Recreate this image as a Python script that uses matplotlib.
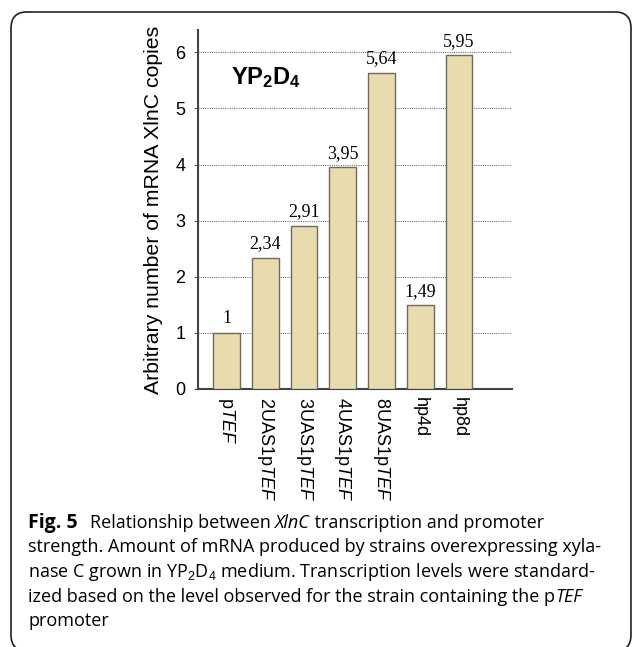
import matplotlib
matplotlib.use("Agg")
import matplotlib.pyplot as plt
from matplotlib.patches import FancyBboxPatch

plt.rcParams['font.family'] = ['Liberation Sans', 'DejaVu Sans']
plt.rcParams['mathtext.fontset'] = 'custom'
plt.rcParams['mathtext.rm'] = 'Liberation Sans'
plt.rcParams['mathtext.it'] = 'Liberation Sans:italic'
plt.rcParams['mathtext.bf'] = 'Liberation Sans:bold'

categories = [r'p$\it{TEF}$', r'2UAS1p$\it{TEF}$', r'3UAS1p$\it{TEF}$',
              r'4UAS1p$\it{TEF}$', r'8UAS1p$\it{TEF}$', 'hp4d', 'hp8d']
values = [1, 2.34, 2.91, 3.95, 5.64, 1.49, 5.95]
value_labels = ['1', '2,34', '2,91', '3,95', '5,64', '1,49', '5,95']
yticks = [0, 1, 2, 3, 4, 5, 6]

fig = plt.figure(figsize=(6.33, 6.47), dpi=100)
ax = fig.add_axes([0.3128, 0.3988, 0.496, 0.5549])

x = list(range(len(categories)))
ax.bar(x, values, width=0.69, color='#e8dcae', edgecolor='#6e6a5c', linewidth=1.0, zorder=3)
for xi, v, lab in zip(x, values, value_labels):
    ax.annotate(lab, (xi, v), xytext=(0, 4), textcoords='offset points',
                ha='center', va='bottom', fontsize=13, family='Liberation Serif')

ax.set_xlim(-0.74, 7.37)
ax.set_ylim(0, 6.4)
ax.set_yticks(yticks)
ax.set_yticklabels([str(t) for t in yticks], fontsize=13)
ax.yaxis.grid(True, linestyle=(0, (1, 1)), color='#777777', linewidth=0.8, zorder=0)
ax.set_xticks(x)
ax.set_xticklabels(categories, rotation=270, fontsize=13, va='top', ha='center')
ax.tick_params(axis='x', length=0, pad=6)
ax.tick_params(axis='y', length=3, width=0.8, color='#555555', pad=6)
for s in ['top', 'right']:
    ax.spines[s].set_visible(False)
ax.spines['left'].set_color('#444444')
ax.spines['left'].set_linewidth(1.5)
ax.spines['bottom'].set_color('#444444')
ax.spines['bottom'].set_linewidth(1.5)
ax.set_ylabel('Arbitrary number of mRNA XlnC copies', fontsize=15.3, labelpad=9)

ax.text(0.1, 5.55, r'$\mathbf{YP_2D_4}$', fontsize=17, ha='left', va='center')

# caption
caption_font = 'Open Sans'
fs = 13
x0 = 28 / 633
base = [1 - (528 + 24.5 * k) / 647 for k in range(5)]
fig.canvas.draw()
r = fig.canvas.get_renderer()
W = fig.bbox.width

t = fig.text(x0, base[0], 'Fig. 5', fontsize=14, fontweight='bold', family=caption_font, va='baseline')
bb = t.get_window_extent(r)
t1 = fig.text(bb.x1 / W + 12 / 633, base[0], 'Relationship between ', fontsize=fs,
              family=caption_font, va='baseline')
bb1 = t1.get_window_extent(r)
t2 = fig.text(bb1.x1 / W, base[0], 'XlnC', fontsize=fs, family=caption_font, style='italic',
              va='baseline')
bb2 = t2.get_window_extent(r)
fig.text(bb2.x1 / W, base[0], ' transcription and promoter', fontsize=fs, family=caption_font,
         va='baseline')

fig.text(x0, base[1], 'strength. Amount of mRNA produced by strains overexpressing xyla-',
         fontsize=fs, family=caption_font, va='baseline')
fig.text(x0, base[2], r'nase C grown in YP$_2$D$_4$ medium. Transcription levels were standard-',
         fontsize=fs, family=caption_font, va='baseline')
ta = fig.text(x0, base[3], 'ized based on the level observed for the strain containing the p',
              fontsize=fs, family=caption_font, va='baseline')
bba = ta.get_window_extent(r)
fig.text(bba.x1 / W, base[3], 'TEF', fontsize=fs, family=caption_font, style='italic',
         va='baseline')
fig.text(x0, base[4], 'promoter', fontsize=fs, family=caption_font, va='baseline')

box = FancyBboxPatch((11 / 633, -4 / 647), 620 / 633, (647 - 12 + 4) / 647,
                     boxstyle='round,pad=0,rounding_size=0.025',
                     transform=fig.transFigure, facecolor='none', edgecolor='#222222',
                     linewidth=1.2, clip_on=False)
fig.patches.append(box)

fig.savefig('out.png', dpi=100)
